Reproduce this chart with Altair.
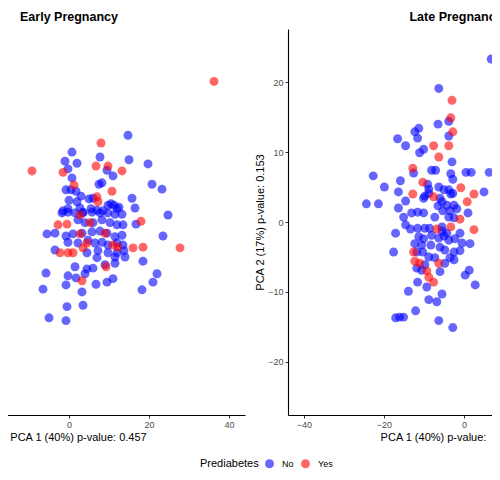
import altair as alt
import pandas as pd

# ---------------- data ----------------
# Early pregnancy, Prediabetes = No
early_no_pc1 = [14.75, 0.75, 7.75, -1.0, 2.0, 15.0, 19.75, -0.25, 9.5, 11.0, 0.75, 20.75, 23.25, 7.5, 8.25,
                -0.75, 0.5, 1.75, 3.0, 15.75, 0.0, 2.0, 5.0, 6.0, 16.5, 10.5, 12.0, 13.25, 24.75, 16.75, 23.5,
                9.75, 11.25, 12.5, -1.5, -0.25, 2.75, 3.5, 5.5, 7.0, 8.5, -1.75, 1.5, 5.75, 7.75, 9.75, 11.5,
                2.25, 4.0, 6.0, 8.25, 10.25, 12.0, 13.5, -5.5, -3.5, -0.75, 1.0, 3.25, 5.75, 7.75, 9.5, 11.5,
                13.25, -0.25, 2.25, 4.75, 6.5, 8.25, 9.75, 12.0, 13.5, -3.5, 4.5, 7.25, 9.75, 12.0, 13.75, 7.0,
                11.5, 14.0, 11.5, 9.0, 1.5, 4.5, 6.0, 18.5, -5.75, -0.25, 1.75, 4.0, 22.0, -6.5, -0.75, 3.25,
                6.75, 9.5, 11.0, 18.25, 21.0, -0.5, 3.5, -5.0, -0.75, 3.5, -0.25]
early_no_pc2 = [12.4, 10.0, 9.3, 8.7, 8.4, 8.9, 8.3, 7.6, 7.4, 6.6, 6.3, 5.4, 4.7, 5.4, 5.6,
                4.6, 4.6, 4.4, 3.7, 3.4, 3.1, 2.9, 3.3, 3.4, 2.0, 2.6, 1.9, 1.1, 1.0, -0.3, -2.0,
                2.4, 2.4, 2.1, 1.6, 1.9, 2.0, 1.4, 1.9, 1.7, 1.6, 1.3, 1.3, 1.4, 1.3, 1.3, 1.1,
                0.3, -0.1, -0.1, 0.3, -0.1, -0.4, -0.4, -1.7, -1.6, -2.0, -1.7, -1.6, -1.4, -1.3, -1.6, -2.1,
                -1.9, -2.9, -3.0, -2.6, -3.0, -2.9, -3.3, -3.0, -3.3, -4.0, -4.4, -4.1, -4.4, -4.4, -4.1, -5.1,
                -5.0, -5.0, -5.9, -6.1, -6.4, -6.7, -6.6, -5.6, -7.3, -7.7, -8.0, -7.4, -7.4, -9.6, -9.0, -10.0,
                -8.9, -8.6, -8.1, -9.7, -8.6, -12.1, -11.9, -13.7, -14.1, 1.3, 1.4]
# Early pregnancy, Prediabetes = Yes
early_yes_pc1 = [36.25, 8.0, -9.25, -1.5, 6.75, 9.75, 13.25, 1.25, 10.75, 7.0, 7.25, 18.0, -2.75, -0.5, 2.75,
                 5.25, 2.75, 9.0, 4.5, 11.0, 12.25, -2.25, -0.25, 1.0, 3.5, 9.25, 3.25, 16.0, 18.5, 27.75]
early_yes_pc2 = [20.1, 11.3, 7.3, 7.1, 8.0, 8.0, 7.3, 5.3, 4.4, 3.6, 2.9, 0.1, -0.4, -0.3, 1.0,
                 -0.1, -1.7, -1.6, -3.0, -3.3, -3.6, -4.4, -4.4, -4.4, -3.7, -6.4, -8.4, -3.7, -3.6, -3.7]

# Late pregnancy, Prediabetes = No
late_no_pc1 = [6.8, -6.3, -3.8, -3.8, 8.3, -6.5, -11.3, -12.3, -11.6, -16.6, -14.6, -10.1, -11.1, -3.0, -12.6,
               -8.1, -7.1, -3.3, -2.8, 0.5, 1.8, 6.3, -22.7, -15.9, -9.1, -19.9, -6.3, -5.0, -3.8, -2.8,
               -16.4, 5.0, -9.8, -8.8, -8.8, -6.0, -3.3, -14.6, -24.4, -21.4, -16.4, -10.1, -5.5, -4.3, -2.5,
               -13.1, -11.6, -10.1, -6.5, -5.3, -3.5, -1.8, 1.0, -15.1, -7.3, -3.8, -2.5, -14.6, -13.4, -11.6,
               -9.8, -8.6, -5.5, -5.5, -4.3, -17.1, -1.0, -8.1, -5.0, -11.3, -10.1, -6.3, -3.8, -2.3, -0.5,
               1.5, -12.3, -10.6, -8.3, -6.0, -4.8, -2.5, -1.0, -17.6, -11.8, -10.3, -8.8, -3.5, -2.5, -7.3,
               -4.8, -9.8, -11.8, -10.6, -6.0, 1.3, 0.3, -11.6, -9.3, -13.9, -5.5, -8.8, -6.8, 2.8, -12.1,
               -17.1, -16.1, -15.1, -6.3, -2.8]
late_no_pc2 = [23.3, 19.1, 14.4, 12.3, 13.1, 14.0, 13.4, 12.9, 12.0, 11.9, 10.9, 10.4, 9.9, 8.6, 7.0,
               7.4, 7.4, 6.9, 6.1, 7.1, 7.1, 7.1, 6.6, 5.9, 5.4, 5.0, 5.0, 4.6, 4.6, 4.1,
               4.3, 4.3, 3.7, 4.1, 4.7, 3.4, 4.0, 3.0, 2.6, 2.6, 2.0, 3.4, 2.9, 2.4, 2.4,
               1.3, 1.4, 1.3, 2.3, 1.6, 1.6, 1.9, 1.3, 0.7, 0.7, 0.7, 0.6, -0.4, -1.0, -0.9,
               -0.9, -0.9, -0.7, -1.3, -1.6, -1.6, -1.6, -1.9, -2.0, -2.1, -2.4, -2.3, -2.6, -2.4, -3.0,
               -3.1, -3.1, -3.3, -3.3, -3.6, -4.0, -4.3, -4.1, -4.3, -4.3, -4.3, -5.0, -5.1, -5.4, -5.1,
               -5.9, -6.1, -6.6, -6.9, -7.1, -6.9, -7.6, -8.6, -9.3, -9.9, -10.3, -11.1, -11.4, -9.0, -12.7,
               -13.7, -13.6, -13.6, -14.1, -15.1]
# Late pregnancy, Prediabetes = Yes
late_yes_pc1 = [-3.0, -3.3, -2.8, -7.6, -3.8, -6.3, -12.8, -10.3, -0.8, 2.5, -12.8, -7.6, 0.8, -1.0, -3.3,
                2.5, -6.8, -12.6, -12.3, -11.1, -6.3, -9.3, -8.8, -7.6]
late_yes_pc2 = [17.4, 14.9, 12.9, 10.9, 10.9, 9.3, 7.7, 5.7, 4.9, 4.0, 4.0, 3.6, 2.9, 0.4, -0.7,
                -1.1, -1.0, -4.3, -5.6, -5.9, -5.9, -7.0, -7.9, -8.6]

groups = ["No", "Yes"]
group_colors = ["#0000FF", "#FF0000"]
left_x_ticks = [0, 20, 40]            # ticks visible in the reference, left panel
right_x_ticks = [-40, -20, 0]         # ticks visible in the reference, right panel
y_ticks = [-20, -10, 0, 10, 20]
x_domain = [-44, 44]
y_domain = [-27.6, 27.6]


def frame(no_x, no_y, yes_x, yes_y):
    rows = [{"pc1": a, "pc2": b, "Prediabetes": "No"} for a, b in zip(no_x, no_y)]
    rows += [{"pc1": a, "pc2": b, "Prediabetes": "Yes"} for a, b in zip(yes_x, yes_y)]
    df = pd.DataFrame(rows)
    df["order"] = range(len(df))
    return df


early = frame(early_no_pc1, early_no_pc2, early_yes_pc1, early_yes_pc2)
late = frame(late_no_pc1, late_no_pc2, late_yes_pc1, late_yes_pc2)

color = alt.Color("Prediabetes:N",
                  scale=alt.Scale(domain=groups, range=group_colors),
                  legend=alt.Legend(orient="none", direction="horizontal", titleOrient="left",
                                    legendX=307, legendY=430))


def panel(df, title, xaxis, yaxis):
    return alt.Chart(df, title=title).mark_circle(size=80, opacity=0.6).encode(
        x=alt.X("pc1:Q", scale=alt.Scale(domain=x_domain, nice=False, zero=False), axis=xaxis),
        y=alt.Y("pc2:Q", scale=alt.Scale(domain=y_domain, nice=False, zero=False), axis=yaxis),
        color=color,
        order="order:Q",
    ).properties(width=352, height=386)


left = panel(early, alt.Title("Early Pregnancy"),
             alt.Axis(values=left_x_ticks, title="PCA 1 (40%) p-value: 0.457", titleX=185),
             None)
right = panel(late, alt.Title("Late Pregnancy", dx=-8),
              alt.Axis(values=right_x_ticks, title="PCA 1 (40%) p-value:", titleX=145),
              alt.Axis(values=y_ticks, title="PCA 2 (17%) p-value: 0.153"))

chart = alt.hconcat(left, right, spacing=9).properties(
    padding={"left": -115, "top": 2, "right": -148, "bottom": 0}
).configure(
    font="Liberation Sans",
).configure_view(stroke=None).configure_axis(
    grid=False, domainColor="#000000", domainWidth=1.1, tickColor="#333333", tickSize=3,
    labelColor="#4D4D4D", labelFontSize=9, labelPadding=2, titleFontSize=11,
    titleFontWeight="normal", titleColor="#000000", titlePadding=2,
).configure_title(
    fontSize=12.5, fontWeight="bold", anchor="middle", color="#000000", offset=6,
).configure_legend(
    titleFontSize=11, titleFontWeight="normal", titleColor="#000000", labelFontSize=9,
    labelColor="#000000", symbolSize=80, symbolOpacity=0.6, symbolStrokeWidth=0,
    titlePadding=6, columnPadding=7, labelOffset=8,
)

chart.save("out.html", embed_options={"renderer": "svg", "actions": False})
